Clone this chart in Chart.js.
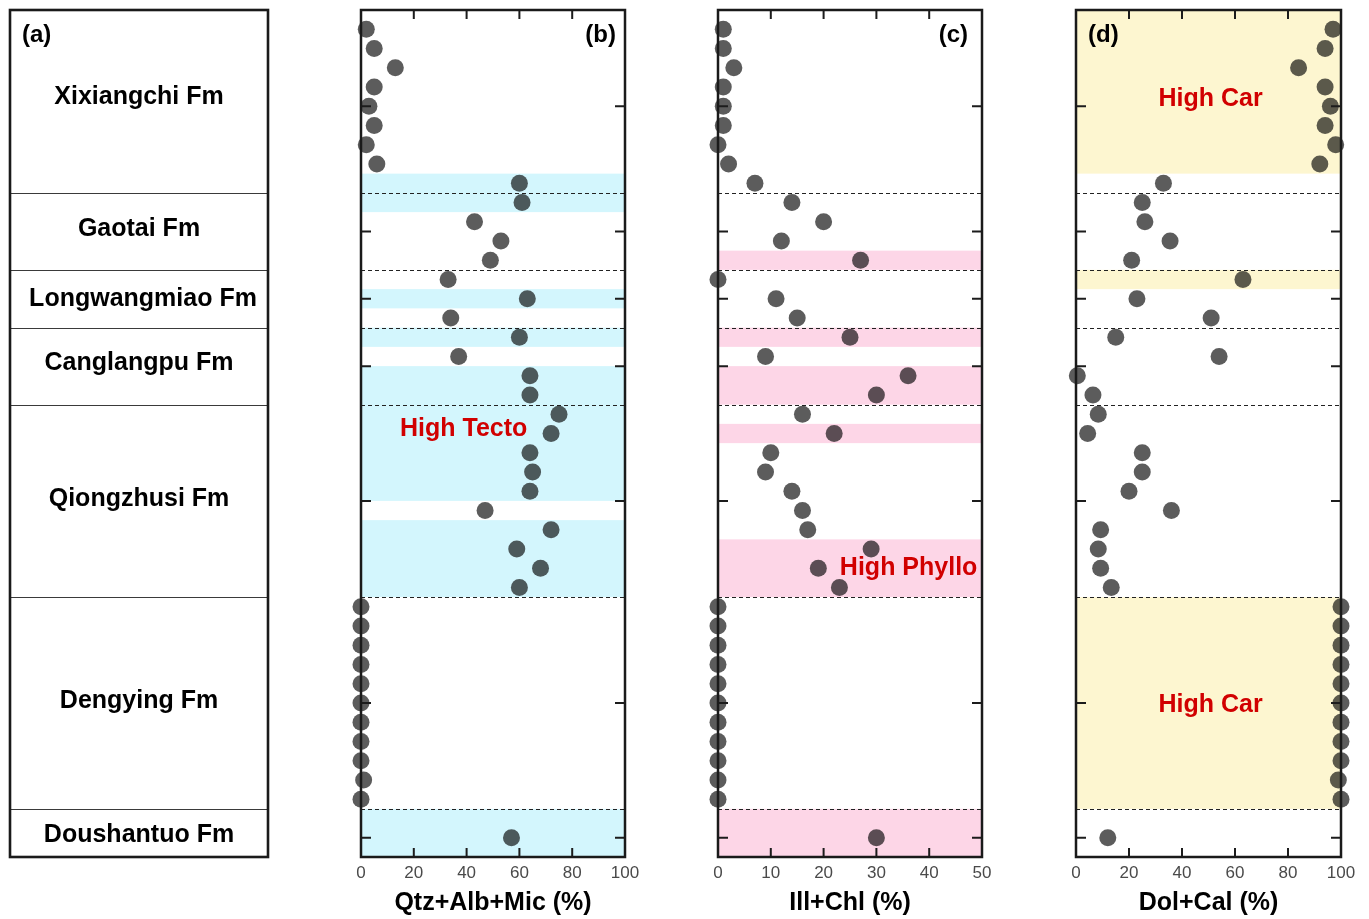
<!DOCTYPE html>
<html><head><meta charset="utf-8">
<script src="https://cdn.jsdelivr.net/npm/chart.js@4.4.1/dist/chart.umd.min.js"></script>
<style>
html,body{margin:0;padding:0;background:#fff;width:1369px;height:919px;overflow:hidden;}
.p{position:absolute;top:0;height:919px;}
canvas{display:block;}
</style></head><body>
<div class="p" style="left:0px;width:300px"><canvas id="ca" width="300" height="919"></canvas></div>
<div class="p" style="left:331px;width:330px"><canvas id="cb" width="330" height="919"></canvas></div>
<div class="p" style="left:688px;width:330px"><canvas id="cc" width="330" height="919"></canvas></div>
<div class="p" style="left:1046px;width:323px"><canvas id="cd" width="323" height="919"></canvas></div>
<script>
// ---------------- data ----------------
const formations = ["Xixiangchi Fm","Gaotai Fm","Longwangmiao Fm","Canglangpu Fm","Qiongzhusi Fm","Dengying Fm","Doushantuo Fm"];
const formationLabelPos = [4.5, 11.4, 15, 18.35, 25.4, 35.9, 42.85];
const boundaries = [9.5, 13.5, 16.5, 20.5, 30.5, 41.5];
const depthMin = 0, depthMax = 44;
const yTickPos = [5, 11.5, 15, 18.5, 25.5, 36, 43];
const sampleIndex = [1,2,3,4,5,6,7,8,9,10,11,12,13,14,15,16,17,18,19,20,21,22,23,24,25,26,27,28,29,30,31,32,33,34,35,36,37,38,39,40,41,43];
const qtzAlbMic = [2,5,13,5,3,5,2,6,60,61,43,53,49,33,63,34,60,37,64,64,75,72,64,65,64,47,72,59,68,60,0,0,0,0,0,0,0,0,0,1,0,57];
const illChl = [1,1,3,1,1,1,0,2,7,14,20,12,27,0,11,15,25,9,36,30,16,22,10,9,14,16,17,29,19,23,0,0,0,0,0,0,0,0,0,0,0,30];
const dolCal = [97,94,84,94,96,94,98,92,33,25,26,35.5,21,63,23,51,15,54,0.5,6.4,8.4,4.4,25,25,20,36,9.3,8.4,9.3,13.3,100,100,100,100,100,100,100,100,100,99,100,12];
const bandsTecto = [[8.5,10.5],[14.5,15.5],[16.5,17.5],[18.5,25.5],[26.5,30.5],[41.5,44]];
const bandsPhyllo = [[12.5,13.5],[16.5,17.5],[18.5,20.5],[21.5,22.5],[27.5,30.5],[41.5,44]];
const bandsCar = [[0,8.5],[13.5,14.5],[30.5,41.5]];

// ---------------- drawing ----------------
const FONT = "'Liberation Sans', Arial, sans-serif";
const RED = '#d10000';

const panelPlugin = {
  id: 'panel',
  afterDatasetsDraw(chart, args, o) {
    const {ctx, chartArea: a} = chart;
    const y = chart.scales.y, x = chart.scales.x;
    ctx.save();
    if (o.column) {
      ctx.strokeStyle = '#3a3a3a'; ctx.lineWidth = 1;
      boundaries.forEach(b => {
        const py = Math.round(y.getPixelForValue(b)) + 0.5;
        ctx.beginPath(); ctx.moveTo(a.left, py); ctx.lineTo(a.right, py); ctx.stroke();
      });
      ctx.fillStyle = '#000';
      ctx.font = 'bold 25px ' + FONT;
      ctx.textAlign = 'center'; ctx.textBaseline = 'middle';
      formations.forEach((f, i) => {
        ctx.fillText(f, (a.left + a.right) / 2 + (i === 2 ? 4 : 0), y.getPixelForValue(formationLabelPos[i]));
      });
    } else {
      ctx.save();
      ctx.globalCompositeOperation = 'multiply';
      ctx.fillStyle = o.bandColor;
      o.bands.forEach(([b0, b1]) => {
        const p0 = y.getPixelForValue(b0), p1 = y.getPixelForValue(b1);
        ctx.fillRect(a.left, Math.min(p0, p1), a.right - a.left, Math.abs(p1 - p0));
      });
      ctx.restore();
      ctx.strokeStyle = '#222'; ctx.lineWidth = 1; ctx.setLineDash([4, 3]);
      boundaries.forEach(b => {
        const py = Math.round(y.getPixelForValue(b)) + 0.5;
        ctx.beginPath(); ctx.moveTo(a.left, py); ctx.lineTo(a.right, py); ctx.stroke();
      });
      ctx.setLineDash([]);
      ctx.strokeStyle = '#1c1c1c'; ctx.lineWidth = 2;
      x.ticks.forEach(t => {
        if (t.value <= x.min || t.value >= x.max) return;
        const px = x.getPixelForValue(t.value);
        ctx.beginPath();
        ctx.moveTo(px, a.bottom); ctx.lineTo(px, a.bottom - 9);
        ctx.moveTo(px, a.top); ctx.lineTo(px, a.top + 9);
        ctx.stroke();
      });
      yTickPos.forEach(v => {
        const py = y.getPixelForValue(v);
        ctx.beginPath();
        ctx.moveTo(a.left, py); ctx.lineTo(a.left + 10, py);
        ctx.moveTo(a.right, py); ctx.lineTo(a.right - 10, py);
        ctx.stroke();
      });
      ctx.fillStyle = RED; ctx.font = 'bold 25px ' + FONT;
      ctx.textAlign = 'center'; ctx.textBaseline = 'middle';
      (o.notes || []).forEach(n => ctx.fillText(n.text, x.getPixelForValue(n.x), y.getPixelForValue(n.y)));
    }
    ctx.strokeStyle = '#1a1a1a'; ctx.lineWidth = o.column ? 2.6 : 2.5;
    ctx.strokeRect(a.left, a.top, a.right - a.left, a.bottom - a.top);
    ctx.fillStyle = '#000'; ctx.font = 'bold 24px ' + FONT; ctx.textBaseline = 'middle';
    ctx.textAlign = o.letterAlign;
    ctx.fillText(o.letter, o.letterAlign === 'right' ? a.right - o.letterInset : a.left + o.letterInset, a.top + 25);
    ctx.restore();
  }
};
Chart.register(panelPlugin);

function makeColumn() {
  new Chart(document.getElementById('ca'), {
    type: 'scatter',
    data: {datasets: [{data: []}]},
    options: {
      responsive: false, animation: false, events: [],
      layout: {padding: {left: 10, right: 32, top: 10, bottom: 62}},
      scales: {
        x: {display: false, min: 0, max: 1},
        y: {display: false, min: depthMin, max: depthMax, reverse: true}
      },
      plugins: {legend: {display: false}, tooltip: {enabled: false},
        panel: {column: true, letter: '(a)', letterAlign: 'left', letterInset: 12}}
    }
  });
}

function makePanel(id, values, xMax, step, title, bands, bandColor, letter, letterAlign, letterInset, notes, padRight) {
  new Chart(document.getElementById(id), {
    type: 'scatter',
    data: {datasets: [{
      data: sampleIndex.map((d, i) => ({x: values[i], y: d})),
      clip: false,
      pointRadius: 8.5, pointHoverRadius: 8.5, borderWidth: 0,
      backgroundColor: '#5c5c5c', pointBackgroundColor: '#5c5c5c'
    }]},
    options: {
      responsive: false, animation: false, events: [],
      layout: {padding: {left: 30, right: padRight, top: 10, bottom: 0}},
      scales: {
        x: {
          type: 'linear', position: 'bottom', min: 0, max: xMax,
          grid: {display: false, drawTicks: false}, border: {display: false},
          ticks: {stepSize: step, padding: 6, color: '#4a4a4a', font: {family: FONT, size: 17}},
          title: {display: true, text: title, color: '#000', padding: {top: 0, bottom: 1},
                  font: {family: FONT, size: 25, weight: 'bold'}},
          afterFit: s => { s.height = 62; }
        },
        y: {display: false, min: depthMin, max: depthMax, reverse: true}
      },
      plugins: {legend: {display: false}, tooltip: {enabled: false},
        panel: {bands, bandColor, letter, letterAlign, letterInset, notes}}
    }
  });
}

makeColumn();
makePanel('cb', qtzAlbMic, 100, 20, 'Qtz+Alb+Mic (%)', bandsTecto, '#d3f6fd', '(b)', 'right', 9,
  [{text: 'High Tecto', x: 38.9, y: 21.75}], 36);
makePanel('cc', illChl, 50, 10, 'Ill+Chl (%)', bandsPhyllo, '#fdd6e7', '(c)', 'right', 14,
  [{text: 'High Phyllo', x: 36.1, y: 29.0}], 36);
makePanel('cd', dolCal, 100, 20, 'Dol+Cal (%)', bandsCar, '#fdf6d0', '(d)', 'left', 12,
  [{text: 'High Car', x: 50.8, y: 4.62}, {text: 'High Car', x: 50.8, y: 36.1}], 28);
</script>
</body></html>
